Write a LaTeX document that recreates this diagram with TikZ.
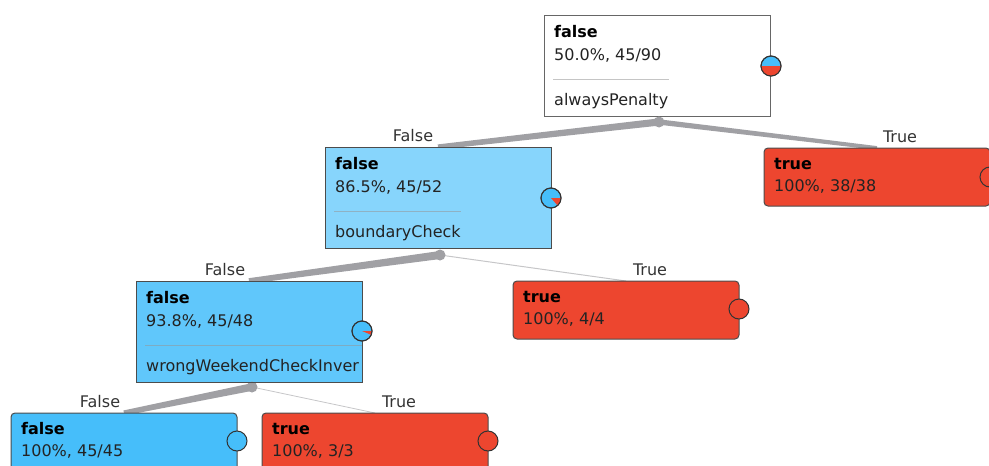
\documentclass[tikz,border=0pt]{standalone}
\usepackage{fontspec}
\setmainfont{DejaVu Sans}
\usetikzlibrary{backgrounds,calc}
\definecolor{cblue}{RGB}{70,190,250}
\definecolor{cred}{RGB}{237,70,47}
\definecolor{edgec}{RGB}{160,160,164}
\definecolor{txt}{RGB}{35,35,35}
\definecolor{divc}{RGB}{150,150,150}
\newcommand\taperedge[4]{\fill[edgec] ($(#1)!#3!90:(#2)$) -- ($(#2)!#4!-90:(#1)$) -- ($(#2)!#4!90:(#1)$) -- ($(#1)!#3!-90:(#2)$) -- cycle;}
\begin{document}
\begin{tikzpicture}[x=1pt,y=-1pt,
  font=\fontsize{16}{19}\selectfont,
  split/.style={draw=black!70, line width=1pt, rectangle, anchor=north west, minimum width=226pt, minimum height=101pt, inner sep=0pt, outer sep=0pt},
  leaf/.style={draw=black!70, line width=1pt, rounded corners=4pt, anchor=north west, minimum width=226pt, minimum height=58pt, inner sep=0pt, outer sep=0pt},
  txtn/.style={anchor=base west, inner sep=0pt, text=txt},
  ttl/.style={anchor=base west, inner sep=0pt, text=black, font=\fontsize{16}{19}\selectfont\bfseries},
  lbl/.style={anchor=base, inner sep=0pt, text=black!80},
  dot/.style={circle, fill=edgec, minimum size=11pt, inner sep=0pt},
  thinconn/.style={draw=edgec!60, line cap=butt, line width=1pt},
  pie/.style={circle, minimum size=20pt, inner sep=0pt, draw=black!80, line width=1pt},
  divl/.style={draw=divc, draw opacity=0.55, line width=1pt},
]
\useasboundingbox (0,0) rectangle (989,466);
\clip (0,0) rectangle (989,466);

% ---------- boxes ----------
\node[split, fill=white, draw=black!60] (n1) at (544,15) {};
\node[split, fill=cblue!65!white] (n2) at (325,147) {};
\node[split, fill=cblue!86!white] (n3) at (136,281) {};
\node[leaf, fill=cred] (l38) at (764,148) {};
\node[leaf, fill=cred] (l4) at (513,281) {};
\node[leaf, fill=cblue] (l45) at (11,413) {};
\node[leaf, fill=cred] (l3) at (262,413) {};

% ---------- split dots ----------
\node[dot] (d1) at (659,122) {};
\node[dot] (d2) at (440,255) {};
\node[dot] (d3) at (252,387) {};

% ---------- connectors ----------
\begin{scope}[on background layer]
\taperedge{d1.center}{n2.north}{3.6pt}{2.6pt}
\taperedge{d1.center}{l38.north}{2.7pt}{1.9pt}
\taperedge{d2.center}{n3.north}{4pt}{2.8pt}
\draw[thinconn] (d2.center) -- (l4.north);
\taperedge{d3.center}{l45.north}{3.8pt}{2.6pt}
\draw[thinconn, line width=0.8pt] (d3.center) -- (l3.north);
\end{scope}

% ---------- edge labels ----------
\node[lbl] (e1) at ($(n2.north)+(-25,-6)$) {False};
\node[lbl] (e2) at ($(l38.north)+(23,-6)$) {True};
\node[lbl] (e3) at ($(n3.north)+(-24,-6)$) {False};
\node[lbl] (e4) at ($(l4.north)+(24,-6)$) {True};
\node[lbl] (e5) at ($(l45.north)+(-24,-6)$) {False};
\node[lbl] (e6) at ($(l3.north)+(24,-6)$) {True};

% ---------- texts: root ----------
\node[ttl] (t1a) at ($(n1.north west)+(10,22)$) {false};
\node[txtn] (t1b) at ($(n1.north west)+(10,45)$) {50.0\%, 45/90};
\draw[divl] ($(n1.north west)+(9,64)$) -- ($(n1.north west)+(125,64)$);
\node[txtn] (t1c) at ($(n1.north west)+(10,90)$) {alwaysPenalty};

% ---------- texts: node 2 ----------
\node[ttl] (t2a) at ($(n2.north west)+(10,22)$) {false};
\node[txtn] (t2b) at ($(n2.north west)+(10,45)$) {86.5\%, 45/52};
\draw[divl] ($(n2.north west)+(9,64)$) -- ($(n2.north west)+(136,64)$);
\node[txtn] (t2c) at ($(n2.north west)+(10,90)$) {boundaryCheck};

% ---------- texts: node 3 ----------
\node[ttl] (t3a) at ($(n3.north west)+(10,22)$) {false};
\node[txtn] (t3b) at ($(n3.north west)+(10,45)$) {93.8\%, 45/48};
\begin{scope}
\clip (n3.north west) rectangle (n3.south east);
\draw[divl] ($(n3.north west)+(9,64)$) -- ($(n3.north east)+(0,64)$);
\node[txtn] (t3c) at ($(n3.north west)+(10,90)$) {wrongWeekendCheckInver};
\end{scope}
\draw[draw=black!70, line width=1pt] (n3.north west) rectangle (n3.south east);

% ---------- texts: leaves ----------
\node[ttl] (t4a) at ($(l38.north west)+(10,21)$) {true};
\node[txtn] (t4b) at ($(l38.north west)+(10,43)$) {100\%, 38/38};
\node[ttl] (t5a) at ($(l4.north west)+(10,21)$) {true};
\node[txtn] (t5b) at ($(l4.north west)+(10,43)$) {100\%, 4/4};
\node[ttl] (t6a) at ($(l45.north west)+(10,21)$) {false};
\node[txtn] (t6b) at ($(l45.north west)+(10,43)$) {100\%, 45/45};
\node[ttl] (t7a) at ($(l3.north west)+(10,21)$) {true};
\node[txtn] (t7b) at ($(l3.north west)+(10,43)$) {100\%, 3/3};

% ---------- pies ----------
\node[pie, fill=cblue] (p1) at (771,66) {};
\fill[cred] (p1.center) -- ++(10,0) arc[start angle=0, end angle=180, radius=10] -- cycle;
\draw[black!80, line width=1pt] (p1.center) circle[radius=10];

\node[pie, fill=cblue] (p2) at (551,198) {};
\fill[cred] (p2.center) -- ++(10,0) arc[start angle=0, end angle=48.6, radius=10] -- cycle;
\draw[black!80, line width=1pt] (p2.center) circle[radius=10];

\node[pie, fill=cblue] (p3) at (362,331) {};
\fill[cred] (p3.center) -- ++(10,0) arc[start angle=0, end angle=22.5, radius=10] -- cycle;
\draw[black!80, line width=1pt] (p3.center) circle[radius=10];

\node[pie, fill=cred] (p4) at (990,177) {};
\node[pie, fill=cred] (p5) at (739,309) {};
\node[pie, fill=cblue] (p6) at (237,441) {};
\node[pie, fill=cred] (p7) at (488,441) {};
\end{tikzpicture}
\end{document}
